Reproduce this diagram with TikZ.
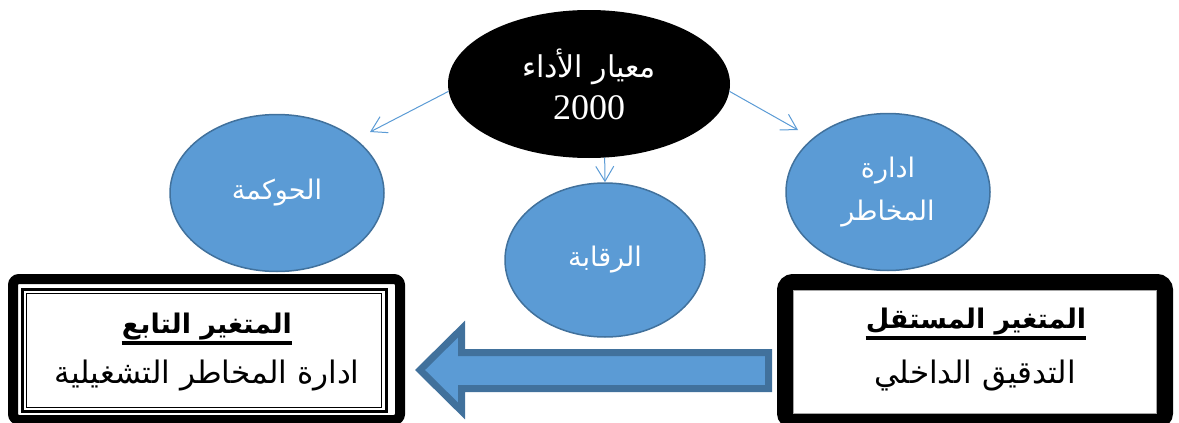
\documentclass[tikz,border=0pt]{standalone}
\usepackage{fontspec}
\setmainfont{Liberation Serif}
\newfontfamily\arabicfont[Script=Arabic]{DejaVu Sans}
\TeXXeTstate=1
\usetikzlibrary{shapes.geometric,arrows.meta}
\definecolor{blobfill}{HTML}{5B9BD5}
\definecolor{blobedge}{HTML}{41719C}
\newcommand{\artext}[1]{{\arabicfont\beginR #1\endR}}

\begin{document}
\begin{tikzpicture}[
    x=1pt,
    y=-1pt,
    blob/.style={
      ellipse,
      draw=blobedge,
      fill=blobfill,
      line width=1.5pt,
      inner sep=0pt,
      text=white,
      align=center,
      font=\fontsize{27}{43}\selectfont
    },
    link/.style={
      draw=blobfill,
      line width=1pt,
      -{Straight Barb[length=15pt,width=18pt]}
    },
    varhead/.style={
      inner sep=0pt,
      font=\fontsize{27}{30}\selectfont\bfseries
    },
    vartext/.style={
      inner sep=0pt,
      font=\fontsize{31}{34}\selectfont
    }
  ]
    \useasboundingbox (0,0) rectangle (1179,423);
    \clip (0,0) rectangle (1179,423);

    \node[ellipse, fill=black, inner sep=0pt, minimum width=282, minimum height=148,
      text=white, align=center] (perf) at (589,84)
      {{\fontsize{30}{34}\selectfont\artext{معيار الأداء}}\\[10pt]{\fontsize{36}{36}\selectfont 2000}};
    \node[blob, minimum width=214, minimum height=157] (gov) at (277,193) {\artext{الحوكمة}};
    \node[blob, minimum width=204, minimum height=157] (risk) at (888,192)
      {\artext{ادارة}\\\artext{المخاطر}};
    \node[blob, minimum width=200, minimum height=154] (ctrl) at (605,260) {\artext{الرقابة}};

    \coordinate (govtip) at (370,132);
    \coordinate (risktip) at (798,130);
    \draw[link] (perf.183) to (govtip);
    \draw[link] (perf.357) to (risktip);
    \draw[link] (perf.282) to (ctrl.north);

    \draw[line width=10pt, rounded corners=6pt] (13,279) rectangle (400,420);
    \draw[line width=3pt] (22.5,289.5) rectangle (386.5,411.5);
    \draw[line width=1pt] (26.5,293.5) rectangle (381.5,407.5);

    \draw[line width=16pt, rounded corners=8pt] (785,282) rectangle (1165,421);
    \draw[line width=1pt, gray!70] (793.5,290.5) rectangle (1156.5,413);

    \draw[draw=blobedge, fill=blobfill, line width=7pt, line join=miter]
      (420,370) -- (461.5,329) -- (461.5,352.5) -- (768.5,352.5)
      -- (768.5,388.5) -- (461.5,388.5) -- (461.5,411) -- cycle;

    \node[varhead] (dephead) at (207,327) {\artext{المتغير التابع}};
    \node[vartext] (deptext) at (207,376) {\artext{ادارة المخاطر التشغيلية}};
    \node[varhead] (indhead) at (976,322) {\artext{المتغير المستقل}};
    \node[vartext] (indtext) at (975,376) {\artext{التدقيق الداخلي}};
    \draw[line width=3.5pt] ([yshift=-9pt]dephead.base west) -- ([yshift=-9pt]dephead.base east);
    \draw[line width=3.5pt] ([yshift=-9pt]indhead.base west) -- ([yshift=-9pt]indhead.base east);
  \end{tikzpicture}
\end{document}
